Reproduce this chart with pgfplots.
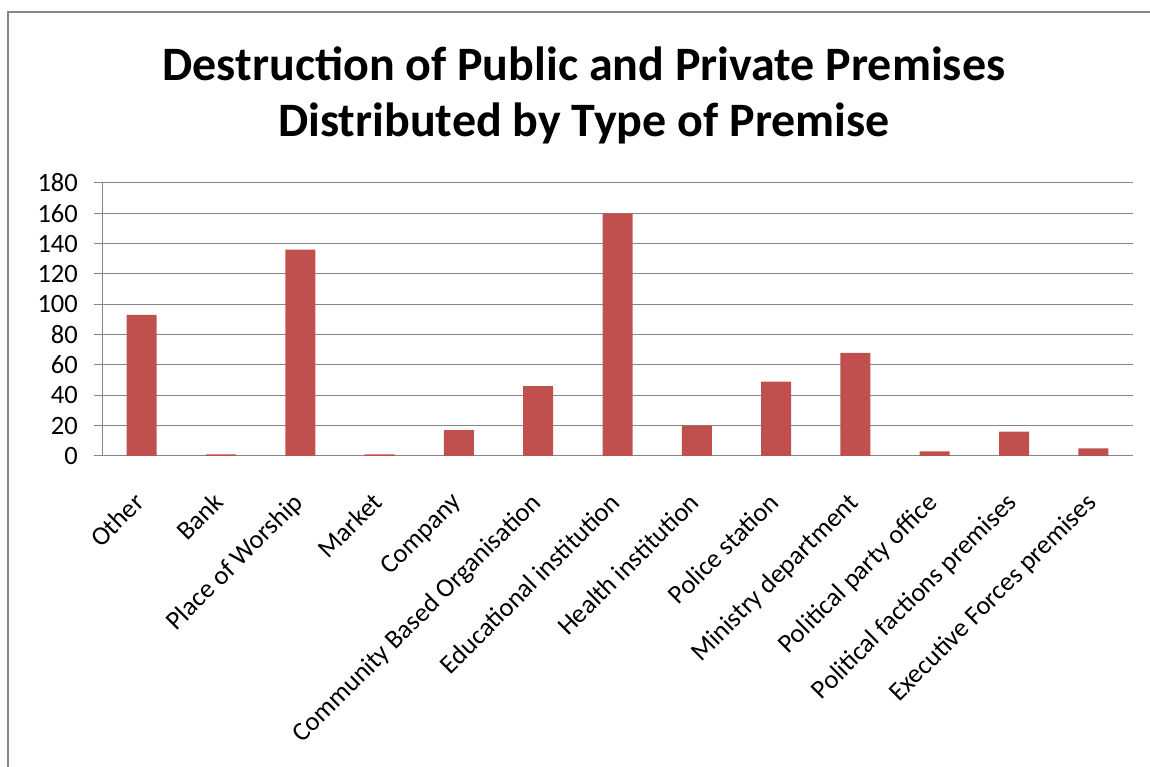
\documentclass[border=0pt]{standalone}
\usepackage{fontspec}
\setmainfont{Carlito}
\usepackage{pgfplots}
\pgfplotsset{compat=1.18}
\definecolor{barred}{HTML}{C0504D}
\definecolor{gridgray}{HTML}{868686}
\begin{document}
\begin{tikzpicture}
\useasboundingbox (0pt,0pt) rectangle (1150pt,767pt);
\draw[gridgray, line width=1.5pt] (8pt,-20pt) -- (8pt,755pt) -- (1170pt,755pt);
\node[font=\fontsize{48}{56}\selectfont\bfseries, align=center] at (584pt,672pt) {Destruction of Public and Private Premises\\Distributed by Type of Premise};
\begin{axis}[
  at={(102pt,311pt)}, anchor=south west, scale only axis,
  width=1031pt, height=273pt,
  ymin=0, ymax=180, ytick={0,20,...,180},
  xmin=-0.5, xmax=12.5,
  xtick={0,...,12},
  xticklabels={Other,Bank,Place of Worship,Market,Company,Community Based Organisation,Educational institution,Health institution,Police station,Ministry department,Political party office,Political factions premises,Executive Forces premises},
  major x tick style={draw=none},
  extra x ticks={-0.5,0.5,...,12.5},
  extra x tick labels={},
  extra x tick style={grid=none, major tick length=8pt, tick style={gridgray, line width=1pt}},
  axis lines=left, axis line style={-, gridgray, line width=1pt},
  tick align=outside, major tick length=8pt,
  ytick style={gridgray, line width=1pt},
  ymajorgrids, grid style={gridgray, line width=1pt},
  /pgf/number format/assume math mode=true,
  ticklabel style={font=\fontsize{26.5}{30}\selectfont, text=black},
  yticklabel style={inner sep=0pt, xshift=-16pt},
  xticklabel style={xshift=-9pt, rotate=45, anchor=north east, inner sep=0pt},
  xticklabel shift=27pt,
  clip=false,
]
\addplot[ybar, bar width=30pt, fill=barred, draw=none] coordinates {
(0,93) (1,1) (2,136) (3,1) (4,17) (5,46) (6,160) (7,20) (8,49) (9,68) (10,3) (11,16) (12,5)
};
\end{axis}
\end{tikzpicture}
\end{document}
